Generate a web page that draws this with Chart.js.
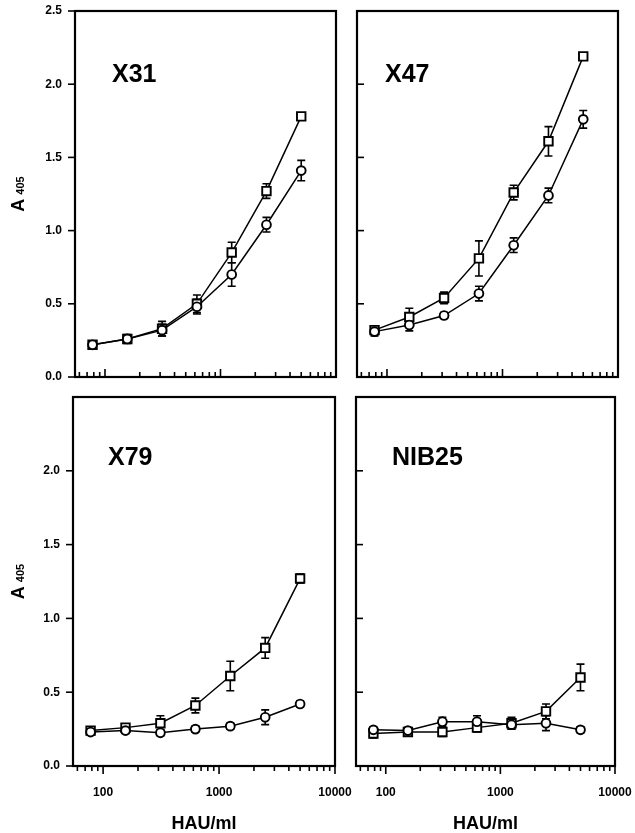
<!DOCTYPE html>
<html>
<head>
<meta charset="utf-8">
<script src="https://cdn.jsdelivr.net/npm/chart.js@4.4.1/dist/chart.umd.min.js"></script>
<style>
  body { margin: 0; background: #fff; width: 635px; height: 833px; position: relative; overflow: hidden; }
  canvas { position: absolute; }
</style>
</head>
<body>
<canvas id="c1" width="345" height="385" style="left:0;top:0"></canvas>
<canvas id="c2" width="290" height="385" style="left:345px;top:0"></canvas>
<canvas id="c3" width="360" height="448" style="left:0;top:385px"></canvas>
<canvas id="c4" width="290" height="448" style="left:345px;top:385px"></canvas>
<script>
// twofold dilutions, HAU/ml
var hau = [78, 156, 312, 625, 1250, 2500, 5000];

var x31Square = [0.22, 0.26, 0.33, 0.50, 0.85, 1.27, 1.78];
var x31SquareErr = [0.02, 0.03, 0.05, 0.06, 0.07, 0.05, 0.02];
var x31Circle = [0.22, 0.26, 0.32, 0.48, 0.70, 1.04, 1.41];
var x31CircleErr = [0.02, 0.02, 0.04, 0.05, 0.08, 0.05, 0.07];

var x47Square = [0.32, 0.41, 0.54, 0.81, 1.26, 1.61, 2.19];
var x47SquareErr = [0.03, 0.06, 0.04, 0.12, 0.05, 0.10, 0.02];
var x47Circle = [0.31, 0.355, 0.42, 0.57, 0.90, 1.24, 1.76];
var x47CircleErr = [0.03, 0.04, 0.02, 0.05, 0.05, 0.05, 0.06];

var x79Square = [0.24, 0.26, 0.29, 0.41, 0.61, 0.80, 1.27];
var x79SquareErr = [0.02, 0.02, 0.05, 0.05, 0.10, 0.07, 0.03];
var x79Circle = [0.23, 0.24, 0.225, 0.25, 0.27, 0.33, 0.42];
var x79CircleErr = [0.02, 0.02, 0.02, 0.02, 0.02, 0.05, 0.02];

var nib25Square = [0.22, 0.23, 0.23, 0.26, 0.29, 0.37, 0.60];
var nib25SquareErr = [0.03, 0.02, 0.03, 0.03, 0.04, 0.05, 0.09];
var nib25Circle = [0.245, 0.24, 0.30, 0.30, 0.28, 0.29, 0.245];
var nib25CircleErr = [0.02, 0.02, 0.03, 0.04, 0.03, 0.05, 0.02];

var yTicksTop = [0, 0.5, 1, 1.5, 2, 2.5];
var yTicksBottom = [0, 0.5, 1, 1.5, 2];
var xTickLabels = [100, 1000, 10000];

var FONT = "'Liberation Sans', Arial, Helvetica, sans-serif";

// minor tick positions of the log axis (1..9 x 10^n)
function logTicks(min, max) {
  var out = [];
  for (var e = 1; e <= 4; e++) {
    for (var m = 1; m <= 9; m++) {
      var v = m * Math.pow(10, e);
      if (v >= min && v <= max) out.push({ v: v, major: m === 1 });
    }
  }
  return out;
}

// no extra padding for labels at the ends of the axes
function noPad(s) {
  s.paddingLeft = 0; s.paddingRight = 0; s.paddingTop = 0; s.paddingBottom = 0;
}

var errorBars = {
  id: 'errorBars',
  beforeDatasetsDraw: function (chart) {
    var ctx = chart.ctx, xs = chart.scales.x, ys = chart.scales.y;
    ctx.save();
    ctx.strokeStyle = '#000';
    ctx.lineWidth = 1.6;
    chart.data.datasets.forEach(function (ds) {
      ds.data.forEach(function (pt, i) {
        var e = ds.errors[i];
        var px = xs.getPixelForValue(pt.x);
        var y1 = ys.getPixelForValue(pt.y + e), y2 = ys.getPixelForValue(pt.y - e);
        ctx.beginPath();
        ctx.moveTo(px, y1); ctx.lineTo(px, y2);
        ctx.moveTo(px - 4, y1); ctx.lineTo(px + 4, y1);
        ctx.moveTo(px - 4, y2); ctx.lineTo(px + 4, y2);
        ctx.stroke();
      });
    });
    ctx.restore();
  }
};

var frame = {
  id: 'frame',
  afterDraw: function (chart) {
    var p = chart.options.plugins.frame;
    var ctx = chart.ctx, a = chart.chartArea;
    var xs = chart.scales.x, ys = chart.scales.y;
    ctx.save();
    ctx.strokeStyle = '#000';
    ctx.fillStyle = '#000';
    ctx.lineWidth = 2.2;
    ctx.strokeRect(a.left, a.top, a.right - a.left, a.bottom - a.top);

    // y tick marks
    ctx.lineWidth = 1.6;
    p.yTicks.forEach(function (v) {
      var y = ys.getPixelForValue(v);
      ctx.beginPath();
      if (p.yIn) { ctx.moveTo(a.left, y); ctx.lineTo(a.left + 7, y); }
      else { ctx.moveTo(a.left - 7, y); ctx.lineTo(a.left, y); }
      ctx.stroke();
    });

    // x tick marks
    logTicks(xs.min, xs.max).forEach(function (t) {
      var x = xs.getPixelForValue(t.v);
      var len = t.major ? 8 : 5;
      ctx.beginPath();
      if (p.xIn) { ctx.moveTo(x, a.bottom); ctx.lineTo(x, a.bottom - len); }
      else { ctx.moveTo(x, a.bottom); ctx.lineTo(x, a.bottom + len); }
      ctx.stroke();
    });

    // panel name
    ctx.font = 'bold 25px ' + FONT;
    ctx.textBaseline = 'alphabetic';
    ctx.fillText(p.name, a.left + p.nameDx, a.top + p.nameDy);

    // y axis title: A 405
    if (p.yTitle) {
      var cy = (a.top + a.bottom) / 2;
      ctx.translate(24, cy);
      ctx.rotate(-Math.PI / 2);
      ctx.font = 'bold 18px ' + FONT;
      var wA = ctx.measureText('A').width;
      ctx.font = 'bold 11px ' + FONT;
      var wS = ctx.measureText('405').width;
      var x0 = -(wA + 4 + wS) / 2;
      ctx.font = 'bold 18px ' + FONT;
      ctx.fillText('A', x0, 0);
      ctx.font = 'bold 11px ' + FONT;
      ctx.fillText('405', x0 + wA + 4, 0);
    }
    ctx.restore();
  }
};

function makePanel(id, cfg) {
  var datasets = [
    { data: hau.map(function (x, i) { return { x: x, y: cfg.circle[i] }; }), errors: cfg.circleErr,
      pointStyle: 'circle', pointRadius: 4.4 },
    { data: hau.map(function (x, i) { return { x: x, y: cfg.square[i] }; }), errors: cfg.squareErr,
      pointStyle: 'rect', pointRadius: 6 }
  ].map(function (d) {
    d.borderColor = '#000';
    d.borderWidth = 1.5;
    d.pointBorderColor = '#000';
    d.pointBackgroundColor = '#fff';
    d.pointBorderWidth = 1.9;
    d.fill = false;
    d.tension = 0;
    return d;
  });

  new Chart(document.getElementById(id), {
    type: 'line',
    data: { datasets: datasets },
    plugins: [errorBars, frame],
    options: {
      responsive: false,
      animation: false,
      devicePixelRatio: 1,
      layout: { autoPadding: false, padding: cfg.pad },
      plugins: {
        legend: { display: false },
        tooltip: { enabled: false },
        frame: {
          name: cfg.name, nameDx: cfg.nameDx, nameDy: cfg.nameDy,
          yTicks: cfg.yTicks, yIn: !cfg.yLabels, xIn: !cfg.xLabels, yTitle: cfg.yLabels
        }
      },
      scales: {
        x: {
          type: 'logarithmic', min: 55, max: 10000,
          grid: { display: false, drawTicks: false },
          border: { display: false },
          afterBuildTicks: function (s) { s.ticks = xTickLabels.map(function (v) { return { value: v }; }); },
          afterFit: function (s) { s.height = cfg.xH; noPad(s); },
          ticks: {
            display: cfg.xLabels, padding: 19, color: '#000', autoSkip: false, maxRotation: 0,
            font: { family: FONT, weight: 'bold', size: 12 },
            callback: function (v) { return String(v); }
          },
          title: {
            display: cfg.xLabels, text: 'HAU/ml', color: '#000', padding: 0,
            font: { family: FONT, weight: 'bold', size: 18, lineHeight: 1 }
          }
        },
        y: {
          min: 0, max: 2.5,
          grid: { display: false, drawTicks: false },
          border: { display: false },
          afterBuildTicks: function (s) { s.ticks = cfg.yTicks.map(function (v) { return { value: v }; }); },
          afterFit: function (s) { s.width = cfg.yW; noPad(s); },
          ticks: {
            display: cfg.yLabels, padding: 13, color: '#000',
            font: { family: FONT, weight: 'bold', size: 12 },
            callback: function (v) { return v.toFixed(1); }
          }
        }
      }
    }
  });
}

makePanel('c1', { name: 'X31', square: x31Square, squareErr: x31SquareErr, circle: x31Circle, circleErr: x31CircleErr,
  yTicks: yTicksTop, yLabels: true, xLabels: false, pad: { top: 11, right: 9, bottom: 0, left: 0 },
  yW: 75, xH: 8, nameDx: 37, nameDy: 71 });
makePanel('c2', { name: 'X47', square: x47Square, squareErr: x47SquareErr, circle: x47Circle, circleErr: x47CircleErr,
  yTicks: yTicksTop, yLabels: false, xLabels: false, pad: { top: 11, right: 17, bottom: 0, left: 0 },
  yW: 12, xH: 8, nameDx: 28, nameDy: 71 });
makePanel('c3', { name: 'X79', square: x79Square, squareErr: x79SquareErr, circle: x79Circle, circleErr: x79CircleErr,
  yTicks: yTicksBottom, yLabels: true, xLabels: true, pad: { top: 12, right: 25, bottom: 0, left: 0 },
  yW: 73, xH: 67, nameDx: 35, nameDy: 68 });
makePanel('c4', { name: 'NIB25', square: nib25Square, squareErr: nib25SquareErr, circle: nib25Circle, circleErr: nib25CircleErr,
  yTicks: yTicksBottom, yLabels: false, xLabels: true, pad: { top: 12, right: 20, bottom: 0, left: 0 },
  yW: 11, xH: 67, nameDx: 36, nameDy: 68 });
</script>
</body>
</html>
